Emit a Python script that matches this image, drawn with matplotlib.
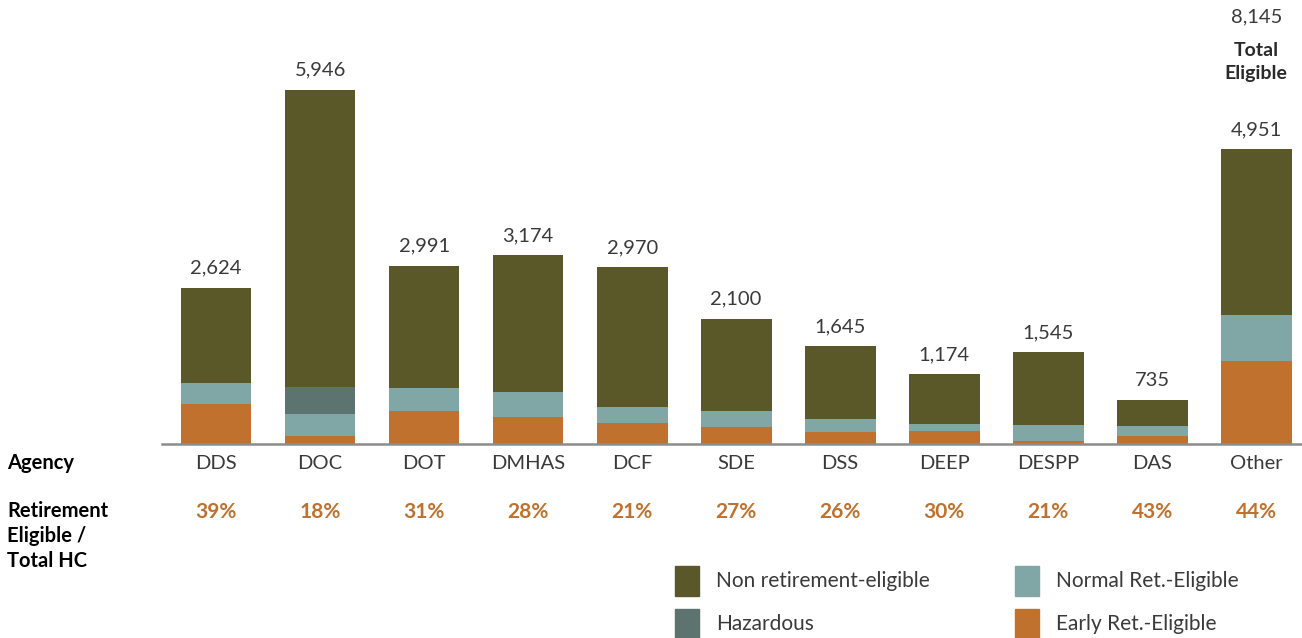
import matplotlib.pyplot as plt
import numpy as np

agencies = ["DDS", "DOC", "DOT", "DMHAS", "DCF", "SDE", "DSS", "DEEP", "DESPP", "DAS", "Other"]
totals = [2624, 5946, 2991, 3174, 2970, 2100, 1645, 1174, 1545, 735, 4951]
early = [680, 130, 555, 460, 350, 290, 195, 220, 58, 140, 1400]
normal = [345, 375, 385, 415, 275, 265, 225, 120, 262, 160, 770]
hazard = [0, 455, 0, 0, 0, 0, 0, 0, 0, 0, 0]
pct_labels = ["39%", "18%", "31%", "28%", "21%", "27%", "26%", "30%", "21%", "43%", "44%"]
total_eligible = "8,145"

non_ret = [t - e - h - n for t, e, h, n in zip(totals, early, hazard, normal)]

c_non = "#5a5829"
c_norm = "#80a7a5"
c_haz = "#5c7370"
c_early = "#c0712d"
c_text = "#3a3a3a"

plt.rcParams['font.family'] = ['Lato', 'DejaVu Sans']

fig = plt.figure(figsize=(13.02, 6.38), dpi=100)
ax = fig.add_axes([162/1302, 1-444/638, 1-162/1302, 444/638])

x = np.arange(len(agencies))
w = 0.68
b1 = np.array(early)
b2 = b1 + np.array(normal)
b3 = b2 + np.array(hazard)
ax.bar(x, early, w, color=c_early)
ax.bar(x, normal, w, bottom=b1, color=c_norm)
ax.bar(x, hazard, w, bottom=b2, color=c_haz)
ax.bar(x, non_ret, w, bottom=b3, color=c_non)

for i, t in enumerate(totals):
    ax.annotate(f"{t:,}", (i, t), xytext=(0, 8), textcoords="offset points",
                ha="center", va="bottom", fontsize=14.5, color=c_text)

ax.set_xlim(-0.52, 10.44)
ax.set_ylim(0, 7457)
for s in ["top", "left", "right"]:
    ax.spines[s].set_visible(False)
ax.spines["bottom"].set_color("#8c8c8c")
ax.spines["bottom"].set_linewidth(1.8)
ax.set_yticks([])
ax.set_xticks(x)
ax.set_xticklabels(agencies, fontsize=14.5, color=c_text)
ax.tick_params(axis="x", length=0, pad=8)

# percentage row
trans = ax.get_xaxis_transform()
for i, p in enumerate(pct_labels):
    ax.text(i, -(512-444)/444, p, transform=trans, ha="center", va="center",
            fontsize=15, fontweight="bold", color=c_early)

# Other: total eligible note
ax.text(10, 1-17/444, total_eligible, transform=trans, ha="center", va="center",
        fontsize=14.5, color=c_text)
ax.text(10, 1-62/444, "Total\nEligible", transform=trans, ha="center", va="center",
        fontsize=14, fontweight="bold", color="#2a2a2a", linespacing=1.4)

# left labels
fig.text(7/1302, 1-463/638, "Agency", ha="left", va="center", fontsize=14.5,
         fontweight="bold", color="black")
fig.text(7/1302, 1-536/638, "Retirement\nEligible /\nTotal HC", ha="left", va="center",
         fontsize=14.5, fontweight="bold", color="black", linespacing=1.3)

# legend
leg = [(675, 581, c_non, "Non retirement-eligible"),
       (1015, 581, c_norm, "Normal Ret.-Eligible"),
       (675, 624, c_haz, "Hazardous"),
       (1015, 624, c_early, "Early Ret.-Eligible")]
for px, py, col, lab in leg:
    fig.patches.append(plt.Rectangle((px/1302, 1-(py+15)/638), 24/1302, 30/638,
                                     color=col, transform=fig.transFigure))
    fig.text((px+41)/1302, 1-py/638, lab, ha="left", va="center", fontsize=15,
             color=c_text)

fig.savefig("out.png", dpi=100)
